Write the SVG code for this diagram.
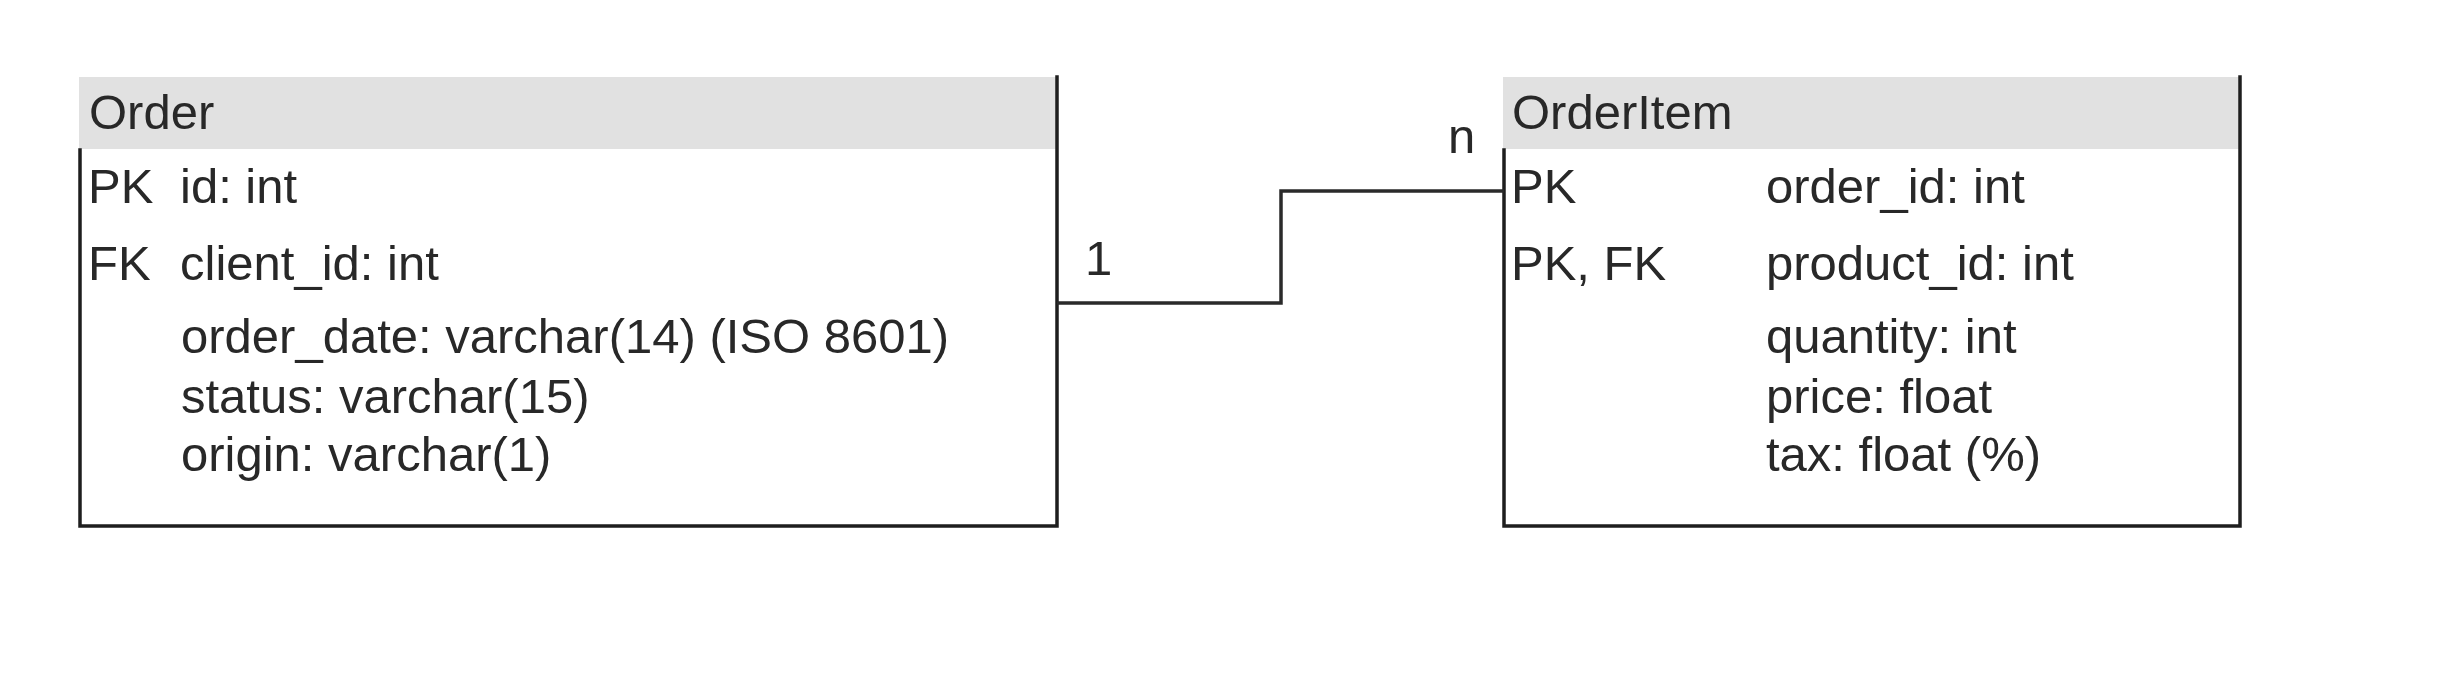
<svg xmlns="http://www.w3.org/2000/svg" width="2462" height="680" viewBox="0 0 2462 680">
<style>
.hdr{fill:#e1e1e1;stroke:none}
.bd{fill:none;stroke:#1e1e1e;stroke-width:3.5;stroke-linecap:square}
.t{font-family:"Liberation Sans",Arial,sans-serif;font-size:49px;fill:#282828}
.conn{fill:none;stroke:#2a2a2a;stroke-width:3.5}
</style>
<rect width="2462" height="680" fill="#ffffff"/>
<g id="order">
<rect class="hdr" x="79" y="77" width="978" height="72"/>
<path class="bd" d="M80,150 V526 H1057 V77"/>
<text class="t" x="89" y="129">Order</text>
<text class="t" x="88" y="203">PK</text>
<text class="t" x="180" y="203">id: int</text>
<text class="t" x="88" y="280">FK</text>
<text class="t" x="180" y="280">client_id: int</text>
<text class="t" x="181" y="353">order_date: varchar(14) (ISO 8601)</text>
<text class="t" x="181" y="413">status: varchar(15)</text>
<text class="t" x="181" y="471">origin: varchar(1)</text>
</g>
<g id="orderitem">
<rect class="hdr" x="1503" y="77" width="737" height="72"/>
<path class="bd" d="M1504,150 V526 H2240 V77"/>
<text class="t" x="1512" y="129">OrderItem</text>
<text class="t" x="1511" y="203">PK</text>
<text class="t" x="1766" y="203">order_id: int</text>
<text class="t" x="1511" y="280">PK, FK</text>
<text class="t" x="1766" y="280">product_id: int</text>
<text class="t" x="1766" y="353">quantity: int</text>
<text class="t" x="1766" y="413">price: float</text>
<text class="t" x="1766" y="471">tax: float (%)</text>
</g>
<g id="connectors">
<path class="conn" d="M1057,303 H1281 V191 H1504"/>
<text class="t" x="1085" y="275">1</text>
<text class="t" x="1448" y="153">n</text>
</g>
</svg>
